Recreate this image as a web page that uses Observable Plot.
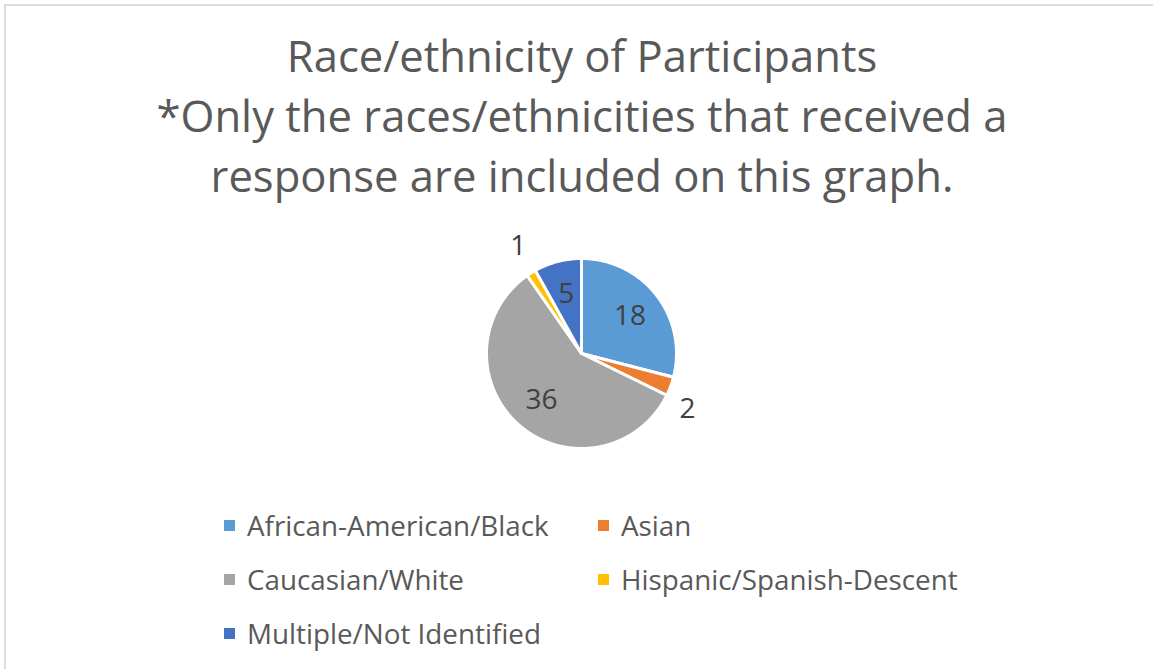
<!DOCTYPE html>
<html>
<head>
<meta charset="utf-8">
<script src="https://cdn.jsdelivr.net/npm/d3@7"></script>
<script src="https://cdn.jsdelivr.net/npm/@observablehq/plot@0.6"></script>
<style>
  html, body { margin: 0; padding: 0; background: #fff; overflow: hidden; width: 1153px; height: 669px; }
  #frame { position: absolute; left: 4px; top: 4px; width: 1160px; height: 680px; border: 2px solid #dcdcdc; box-sizing: border-box; }
  #title { position: absolute; left: 0; top: 25px; width: 1164px; text-align: center; font-family: "Open Sans", sans-serif; font-size: 43.6px; line-height: 60px; color: #595959; }
  #pie { position: absolute; left: 0; top: 215px; }
  #legend { position: absolute; left: 224px; top: 498px; width: 760px; }
  .lg-swatches { display: block !important; font-family: "Open Sans", sans-serif !important; font-size: 27.8px !important; color: #595959 !important; }
  .lg-swatch { display: inline-flex !important; align-items: center; width: 374px; height: 54px; margin: 0 !important; vertical-align: top; }
  .lg-swatch > svg { margin-right: 12px !important; }
</style>
</head>
<body>
<div id="frame"></div>
<div id="title">Race/ethnicity of Participants<br>*Only the races/ethnicities that received a<br>response are included on this graph.</div>
<div id="pie"></div>
<div id="legend"></div>
<script>
const categories = ["African-American/Black", "Asian", "Caucasian/White", "Hispanic/Spanish-Descent", "Multiple/Not Identified"];
const counts = [18, 2, 36, 1, 5];
const colors = ["#5B9BD5", "#ED7D31", "#A5A5A5", "#FFC000", "#4472C4"];

// layout (pixels)
const W = 1153, H = 260, cx = 581, cy = 138, R = 95;
const labelHalfW = 8, labelHalfH = 19; // half size of an outside label box

const rows = categories.map((c, i) => ({category: c, count: counts[i]}));
const total = d3.sum(counts);
const arcs = d3.pie().sort(null).value(d => d.count)(rows);

// slice outlines in unit-radius coordinates (angle clockwise from 12 o'clock)
const pts = [];
for (const a of arcs) {
  const cat = a.data.category;
  pts.push({category: cat, x: 0, y: 0});
  const n = Math.max(2, Math.ceil((a.endAngle - a.startAngle) / 0.01));
  for (let k = 0; k <= n; k++) {
    const t = a.startAngle + (a.endAngle - a.startAngle) * k / n;
    pts.push({category: cat, x: Math.sin(t), y: Math.cos(t)});
  }
}
const labels = arcs.map(a => {
  const m = (a.startAngle + a.endAngle) / 2;
  const s = Math.sin(m), c = Math.cos(m);
  if (a.data.count / total < 0.05) {
    // outside "best fit" label: box placed just beyond the arc
    return {text: String(a.data.count),
      x: 1.1 * s + Math.sign(s) * labelHalfW / R,
      y: 1.1 * c + Math.sign(c) * labelHalfH / R};
  }
  return {text: String(a.data.count), x: 0.645 * s, y: 0.645 * c};
});

const color = {domain: categories, range: colors};

const chart = Plot.plot({
  width: W, height: H,
  margin: 0,
  x: {domain: [-cx / R, (W - cx) / R], axis: null},
  y: {domain: [(cy - H) / R, cy / R], axis: null},
  color,
  marks: [
    Plot.line(pts, {x: "x", y: "y", z: "category", fill: "category", stroke: "white", strokeWidth: 3, strokeLinejoin: "round", curve: "linear-closed"}),
    Plot.text(labels, {x: "x", y: "y", text: "text", fill: "#404040", fontSize: 28, fontFamily: "Open Sans, sans-serif"})
  ],
  style: {background: "transparent", overflow: "visible"}
});
document.getElementById("pie").appendChild(chart);

const legend = Plot.legend({color: {...color, type: "ordinal"}, legend: "swatches", swatchSize: 11, className: "lg"});
document.getElementById("legend").appendChild(legend);
</script>
</body>
</html>
